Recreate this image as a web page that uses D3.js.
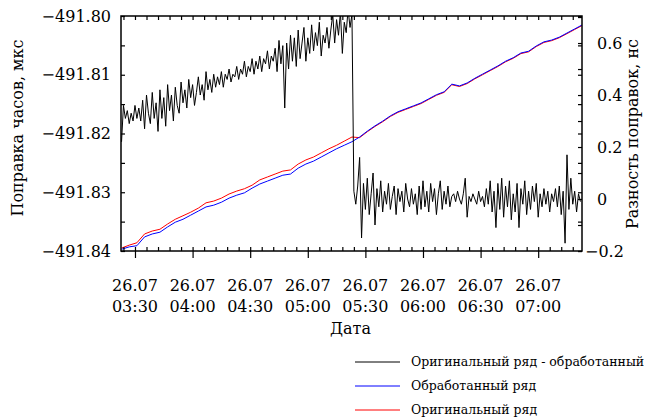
<!DOCTYPE html>
<html><head><meta charset="utf-8">
<script src="https://cdn.jsdelivr.net/npm/d3@7"></script>
<style>
body{margin:0;background:#fff}
svg{display:block}
text{font-family:"DejaVu Serif",serif;fill:#000}
</style>
</head><body>
<svg id="chart" width="649" height="419"></svg>
<script>
// ---------- data ----------
const dateLabel = "26.07";
const majorTickTimes = ["03:30","04:00","04:30","05:00","05:30","06:00","06:30","07:00"];
const axisStart = "03:22:43", axisEnd = "07:22:49";

// processed / original series (μs), sampled every 4 min starting 03:23
const seriesStart = "03:23:00", seriesStepMin = 4;
const processed = [
-491.8397,-491.8393,-491.8391,-491.8376,-491.8371,-491.8368,-491.8359,-491.8351,-491.8346,-491.8339,
-491.8332,-491.8325,-491.8322,-491.8317,-491.8310,-491.8305,-491.8301,-491.8293,-491.8286,-491.8281,
-491.8276,-491.8271,-491.8269,-491.8259,-491.8252,-491.8247,-491.8240,-491.8233,-491.8226,-491.8220,
-491.8214,-491.8206,-491.8196,-491.8187,-491.8179,-491.8170,-491.8163,-491.8158,-491.8153,-491.8148,
-491.8141,-491.8134,-491.8129,-491.8116,-491.8119,-491.8114,-491.8106,-491.8099,-491.8092,-491.8085,
-491.8077,-491.8071,-491.8063,-491.8060,-491.8051,-491.8044,-491.8041,-491.8036,-491.8029,-491.8022,
-491.8015];
const original = [
-491.8395,-491.8390,-491.8386,-491.8371,-491.8366,-491.8363,-491.8354,-491.8346,-491.8340,-491.8334,
-491.8327,-491.8318,-491.8315,-491.8310,-491.8303,-491.8298,-491.8294,-491.8288,-491.8279,-491.8274,
-491.8269,-491.8264,-491.8262,-491.8252,-491.8245,-491.8240,-491.8233,-491.8226,-491.8220,-491.8213,
-491.8206,-491.8207,-491.8197,-491.8188,-491.8180,-491.8171,-491.8164,-491.8159,-491.8154,-491.8149,
-491.8142,-491.8135,-491.8130,-491.8117,-491.8120,-491.8115,-491.8107,-491.8100,-491.8093,-491.8086,
-491.8078,-491.8072,-491.8064,-491.8061,-491.8052,-491.8045,-491.8042,-491.8037,-491.8030,-491.8023,
-491.8016];

// difference original - processed (ns), sampled every 1 min starting 03:23
const diffStart = "03:23:00", diffStepMin = 1;
const difference = [
0.22,0.36,0.31,0.34,0.29,0.33,0.30,0.36,0.31,0.35,
0.30,0.38,0.27,0.40,0.33,0.29,0.41,0.31,0.37,0.26,
0.42,0.31,0.39,0.28,0.44,0.34,0.40,0.30,0.43,0.36,
0.33,0.45,0.37,0.42,0.35,0.46,0.39,0.44,0.36,0.41,
0.47,0.40,0.44,0.38,0.49,0.42,0.46,0.41,0.48,0.43,
0.47,0.44,0.49,0.43,0.48,0.46,0.50,0.45,0.48,0.47,
0.51,0.46,0.50,0.48,0.53,0.47,0.51,0.49,0.54,0.48,
0.53,0.50,0.55,0.49,0.54,0.52,0.57,0.50,0.55,0.53,
0.58,0.49,0.61,0.52,0.59,0.35,0.60,0.50,0.63,0.53,
0.62,0.51,0.65,0.54,0.60,0.66,0.53,0.62,0.56,0.67,
0.57,0.64,0.59,0.68,0.55,0.63,0.60,0.66,0.58,0.65,
0.71,0.60,0.69,0.63,0.72,0.56,0.68,0.64,0.73,0.66,0.71,
0.03,-0.02,0.05,0.16,-0.15,0.06,-0.04,0.08,-0.06,0.02,
0.10,-0.10,0.04,-0.03,0.07,-0.05,0.03,-0.02,0.06,-0.04,
0.01,0.05,-0.06,0.04,-0.01,0.03,-0.05,0.06,0.00,-0.03,
0.04,-0.02,0.02,-0.06,0.05,-0.04,0.07,-0.03,0.03,-0.05,
0.06,-0.01,0.04,-0.06,0.02,0.07,-0.04,0.03,-0.02,0.05,
-0.03,0.01,0.02,-0.01,0.03,0.00,-0.02,0.02,0.08,-0.07,
0.01,-0.01,0.02,0.00,-0.02,0.03,-0.01,0.01,-0.03,0.04,
-0.02,0.07,-0.05,0.03,-0.11,0.06,-0.04,0.08,-0.07,0.05,
-0.03,0.07,-0.08,0.02,-0.05,0.06,-0.11,0.04,-0.02,0.07,
-0.06,0.03,-0.04,0.05,-0.01,0.06,-0.07,0.02,-0.03,0.04,
-0.02,0.03,-0.05,0.02,-0.01,0.04,-0.03,0.05,-0.06,0.03,
-0.17,0.17,-0.04,0.08,-0.02,0.03,-0.05,0.02,-0.01];

const leftTicks = [-491.84,-491.83,-491.82,-491.81,-491.80];
const rightTicks = [-0.2,0,0.2,0.4,0.6];
const legendLabels = ["Оригинальный ряд - обработанный","Обработанный ряд","Оригинальный ряд"];
const legendColors = ["#000","#0000ff","#ff0000"];
const yLabelLeft = "Поправка часов, мкс", yLabelRight = "Разность поправок, нс", xLabel = "Дата";

// ---------- helpers ----------
function T(s){const p=s.split(":").map(Number);return new Date(2000,6,26,p[0],p[1],p[2]||0);}
const addMin=(d,m)=>new Date(d.getTime()+m*60000);

const L=121,R=582,TOP=16,B=251;
const svg=d3.select("#chart");
const x=d3.scaleTime().domain([T(axisStart),T(axisEnd)]).range([L,R]);
const yL=d3.scaleLinear().domain([-491.84,-491.80]).range([B,TOP]);
const yR=d3.scaleLinear().domain([-0.2,0.704]).range([B,TOP]);

svg.append("clipPath").attr("id","clip").append("rect").attr("x",L).attr("y",TOP).attr("width",R-L).attr("height",B-TOP);

const s0=T(seriesStart), d0=T(diffStart);
const lineL=d3.line().x(d=>x(d[0])).y(d=>yL(d[1]));
const lineR=d3.line().x(d=>x(d[0])).y(d=>yR(d[1]));
const orig=original.map((v,i)=>[addMin(s0,i*seriesStepMin),v]);
const proc=processed.map((v,i)=>[addMin(s0,i*seriesStepMin),v]);
const diff=difference.map((v,i)=>[addMin(d0,i*diffStepMin),v]);

const plot=svg.append("g").attr("clip-path","url(#clip)");
plot.append("path").datum(orig).attr("d",lineL).attr("fill","none").attr("stroke","#ff0000").attr("stroke-width",1);
plot.append("path").datum(proc).attr("d",lineL).attr("fill","none").attr("stroke","#0000ff").attr("stroke-width",1);
plot.append("path").datum(diff).attr("d",lineR).attr("fill","none").attr("stroke","#000").attr("stroke-width",1);

// ---------- axes ----------
function clean(g){g.select(".domain").remove();g.selectAll(".tick line").attr("stroke","#000").attr("stroke-width",1.2);}
const minorTime=d3.timeMinute.every(6).range(T("03:24:00"),T("07:23:00"));
const majorTime=majorTickTimes.map(T);
const leftMinor=d3.range(0,9).map(i=>-491.84+i*0.005);
const rightMinor=d3.range(0,10).map(i=>-0.2+i*0.1);

// left
svg.append("g").attr("transform",`translate(${L},0)`).call(d3.axisLeft(yL).tickValues(leftMinor).tickSize(-4).tickFormat("")).call(clean);
svg.append("g").attr("transform",`translate(${L},0)`)
  .call(d3.axisLeft(yL).tickValues(leftTicks).tickSize(0).tickPadding(10).tickFormat(d3.format(".2f")))
  .call(g=>{g.select(".domain").remove();g.selectAll("text").attr("font-size",16).attr("font-family","DejaVu Serif");});
// right
svg.append("g").attr("transform",`translate(${R},0)`).call(d3.axisRight(yL).tickValues(leftMinor).tickSize(-4).tickFormat("")).call(clean);
svg.append("g").attr("transform",`translate(${R},0)`).call(d3.axisRight(yR).tickValues(rightMinor).tickSize(-4).tickFormat("")).call(clean);
svg.append("g").attr("transform",`translate(${R},0)`)
  .call(d3.axisRight(yR).tickValues(rightTicks).tickSize(0).tickPadding(15).tickFormat(d=>d===0?"0":d3.format(".1f")(d)))
  .call(g=>{g.select(".domain").remove();g.selectAll("text").attr("font-size",16).attr("font-family","DejaVu Serif")
     .attr("dx",d=>d<0?-12:0);});
// top
svg.append("g").attr("transform",`translate(0,${TOP})`).call(d3.axisTop(x).tickValues(minorTime).tickSize(-4).tickFormat("")).call(clean);
// bottom
svg.append("g").attr("transform",`translate(0,${B})`).call(d3.axisBottom(x).tickValues(minorTime).tickSize(-4).tickFormat("")).call(clean);
svg.append("g").attr("transform",`translate(0,${B})`).call(d3.axisBottom(x).tickValues(majorTime).tickSize(7).tickFormat("")).call(clean);
const fmtHM=d3.timeFormat("%H:%M");
const xl=svg.append("g").selectAll("text").data(majorTime).join("text")
  .attr("text-anchor","middle").attr("font-size",16);
xl.append("tspan").attr("x",d=>x(d)).attr("y",291).text(dateLabel);
xl.append("tspan").attr("x",d=>x(d)).attr("y",312).text(d=>fmtHM(d));

// frame
svg.append("rect").attr("x",L).attr("y",TOP).attr("width",R-L).attr("height",B-TOP)
  .attr("fill","none").attr("stroke","#000").attr("stroke-width",1.5);

// axis titles
svg.append("text").attr("x",(L+R)/2-1).attr("y",334).attr("text-anchor","middle").attr("font-size",16).text(xLabel);
svg.append("text").attr("transform","translate(23,128) rotate(-90)").attr("text-anchor","middle").attr("font-size",16).text(yLabelLeft);
svg.append("text").attr("transform","translate(638,134) rotate(-90)").attr("text-anchor","middle").attr("font-size",16).text(yLabelRight);

// legend
const lg=svg.append("g").selectAll("g").data(legendLabels).join("g")
  .attr("transform",(d,i)=>`translate(0,${362+i*24})`);
lg.append("line").attr("x1",355).attr("x2",400).attr("y1",0).attr("y2",0)
  .attr("stroke",(d,i)=>legendColors[i]).attr("stroke-width",1);
lg.append("text").attr("x",411).attr("y",4).attr("font-size",12.5).text(d=>d);
</script>
</body></html>
